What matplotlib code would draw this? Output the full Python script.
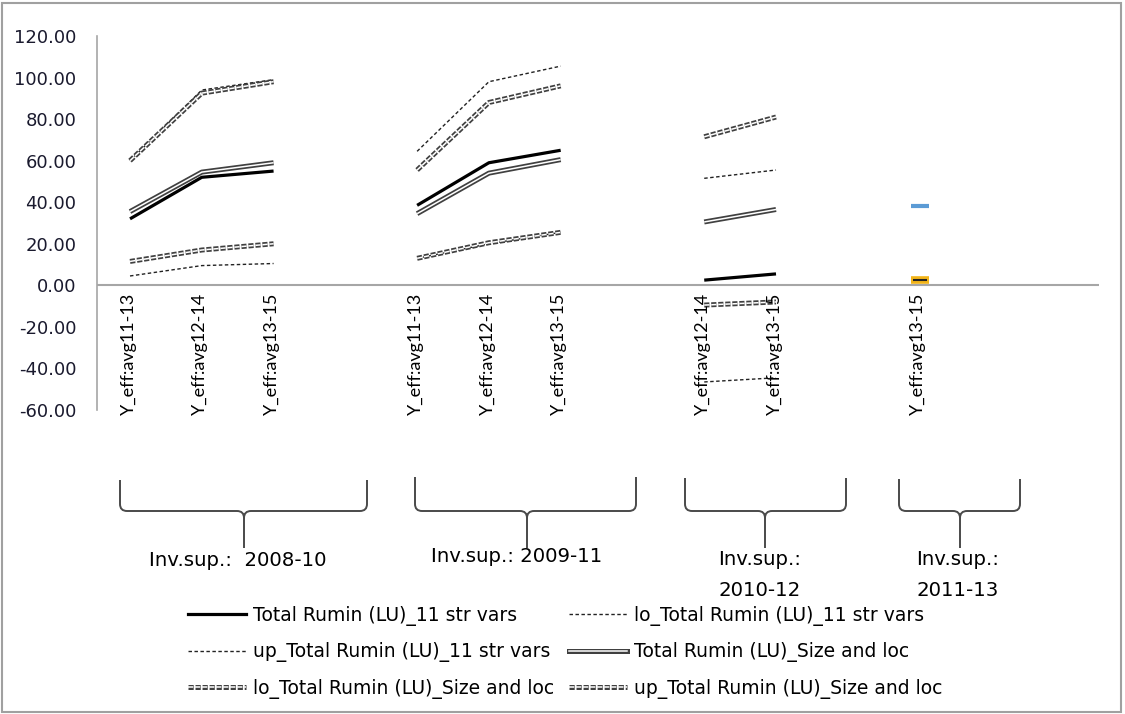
import numpy as np
import matplotlib.pyplot as plt
import matplotlib.patheffects as pe
from matplotlib.patches import Rectangle, PathPatch
from matplotlib.path import Path
from matplotlib.lines import Line2D

plt.rcParams['font.family'] = ['DejaVu Sans']

nan = np.nan

# category slots (blank slots separate the supply groups)
slots = [0, 1, 2, 4, 5, 6, 8, 9, 11]
cat_labels = ["Y_eff:avg11-13", "Y_eff:avg12-14", "Y_eff:avg13-15",
              "Y_eff:avg11-13", "Y_eff:avg12-14", "Y_eff:avg13-15",
              "Y_eff:avg12-14", "Y_eff:avg13-15",
              "Y_eff:avg13-15"]
group_idx = [0, 0, 0, 1, 1, 1, 2, 2, 3]
group_names = ["Inv.sup.:  2008-10", "Inv.sup.: 2009-11",
               "Inv.sup.:\n2010-12", "Inv.sup.:\n2011-13"]

tot_11 = [32.0, 52.0, 55.0, 38.5, 59.0, 65.0, 2.5, 5.5, 2.5]
lo_11 = [4.5, 9.5, 10.5, 13.0, 20.0, 25.5, -46.5, -44.5, nan]
up_11 = [60.0, 94.0, 99.0, 64.5, 98.0, 105.5, 51.5, 55.5, nan]
tot_sl = [35.5, 54.5, 59.0, 34.5, 54.0, 60.5, 30.5, 36.5, 38.0]
lo_sl = [11.5, 17.0, 20.0, 13.0, 20.5, 25.5, -9.5, -8.0, nan]
up_sl = [60.0, 92.5, 98.0, 55.5, 88.0, 96.0, 71.5, 81.0, nan]

labels = ["Total Rumin (LU)_11 str vars", "lo_Total Rumin (LU)_11 str vars",
          "up_Total Rumin (LU)_11 str vars", "Total Rumin (LU)_Size and loc",
          "lo_Total Rumin (LU)_Size and loc", "up_Total Rumin (LU)_Size and loc"]

yticks = [-60, -40, -20, 0, 20, 40, 60, 80, 100, 120]

W, H = 1125, 714
fig = plt.figure(figsize=(W / 100, H / 100), dpi=100)
ax = fig.add_axes([97 / W, 1 - 410 / H, 1002 / W, 374 / H])

double = [pe.Stroke(linewidth=3.6, foreground='#404040'), pe.Normal()]
styles = [
    dict(color='black', lw=2.3),
    dict(color='#222222', lw=1.0, dashes=(2.5, 1.8)),
    dict(color='#222222', lw=1.0, dashes=(2.5, 1.8)),
    dict(color='white', lw=1.1, path_effects=double),
    dict(color='white', lw=1.1, dashes=(3.4, 1.2), path_effects=double),
    dict(color='white', lw=1.1, dashes=(3.4, 1.2), path_effects=double),
]
series = [tot_11, lo_11, up_11, tot_sl, lo_sl, up_sl]

x = np.array(slots)
g = np.array(group_idx)
handles = []
for vals, st, lab in zip(series, styles, labels):
    v = np.array(vals)
    for k in range(3):
        m = g == k
        ax.plot(x[m], v[m], solid_capstyle='butt', dash_capstyle='butt', **st)
    handles.append(Line2D([], [], label=lab, **st))

# last group has a single observation per series
m4 = g == 3
ax.plot(x[m4], np.array(tot_sl)[m4], ls='none', marker='_', ms=13, mew=3, color='#5b9bd5')
ax.plot(x[m4], np.array(tot_11)[m4], ls='none', marker='_', ms=13, mew=5.5, color='#f2b418')
ax.plot(x[m4], np.array(tot_11)[m4], ls='none', marker='_', ms=10, mew=1.5, color='#222222')

ax.set_xlim(-0.46, 13.5)
ax.set_ylim(-60, 120)
ax.set_yticks(yticks)
ax.set_yticklabels([f"{t:.2f}" for t in yticks], fontsize=13, color='#1a1a2e')
ax.tick_params(axis='y', length=0, pad=15)
ax.set_xticks([])
for s in ['top', 'right', 'bottom']:
    ax.spines[s].set_visible(False)
ax.spines['left'].set_color('#a6a6a6')
ax.spines['left'].set_linewidth(1.2)
ax.axhline(0, color='#a6a6a6', lw=1.5, zorder=0)

for xs, lab in zip(slots, cat_labels):
    ax.annotate(lab, (xs, 0), xytext=(-1, -5), textcoords='offset points',
                rotation=90, ha='center', va='top', fontsize=13, color='black',
                family=['Lato', 'DejaVu Sans'])


def fx(px):
    return px / W


def fy(py):
    return 1 - py / H


# braces under each group
braces = [(120, 367, 244, 480), (415, 636, 527, 477), (685, 846, 765, 478), (899, 1020, 960, 479)]
mid, bot, r = 511, 548, 7
for x0, x1, xc, top in braces:
    verts = [(x0, top), (x0, mid - r), (x0, mid), (x0 + r, mid),
             (xc - r, mid), (xc, mid), (xc, mid + r), (xc, bot),
             (xc, mid + r), (xc, mid), (xc + r, mid),
             (x1 - r, mid), (x1, mid), (x1, mid - r), (x1, top)]
    codes = [Path.MOVETO, Path.LINETO, Path.CURVE3, Path.CURVE3,
             Path.LINETO, Path.CURVE3, Path.CURVE3, Path.LINETO,
             Path.MOVETO, Path.CURVE3, Path.CURVE3,
             Path.LINETO, Path.CURVE3, Path.CURVE3, Path.LINETO]
    p = Path([(fx(a), fy(b)) for a, b in verts], codes)
    fig.patches.append(PathPatch(p, fill=False, edgecolor='#4a4a4a', lw=1.4,
                                 transform=fig.transFigure))

name_pos = [(238, 561), (517, 556), (760, 575), (958, 575)]
for (px, py), name in zip(name_pos, group_names):
    fig.text(fx(px), fy(py), name, ha='center', va='center', fontsize=14.2,
             linespacing=1.75, multialignment='center', color='black')

# legend laid out as two fixed columns
leg_kw = dict(loc='upper left', frameon=False, fontsize=13.5, handlelength=3.1,
              handletextpad=0.35, labelspacing=0.88, borderpad=0, borderaxespad=0)
for col, x0 in zip([[0, 2, 4], [1, 3, 5]], [188, 569]):
    fig.legend([handles[i] for i in col], [labels[i] for i in col],
               bbox_to_anchor=(fx(x0), fy(606)), **leg_kw)

fig.patches.append(Rectangle((fx(2), fy(712)), fx(1119), 709 / H, fill=False,
                             edgecolor='#a0a0a0', lw=1.5, transform=fig.transFigure))

fig.savefig("out.png", dpi=100)
